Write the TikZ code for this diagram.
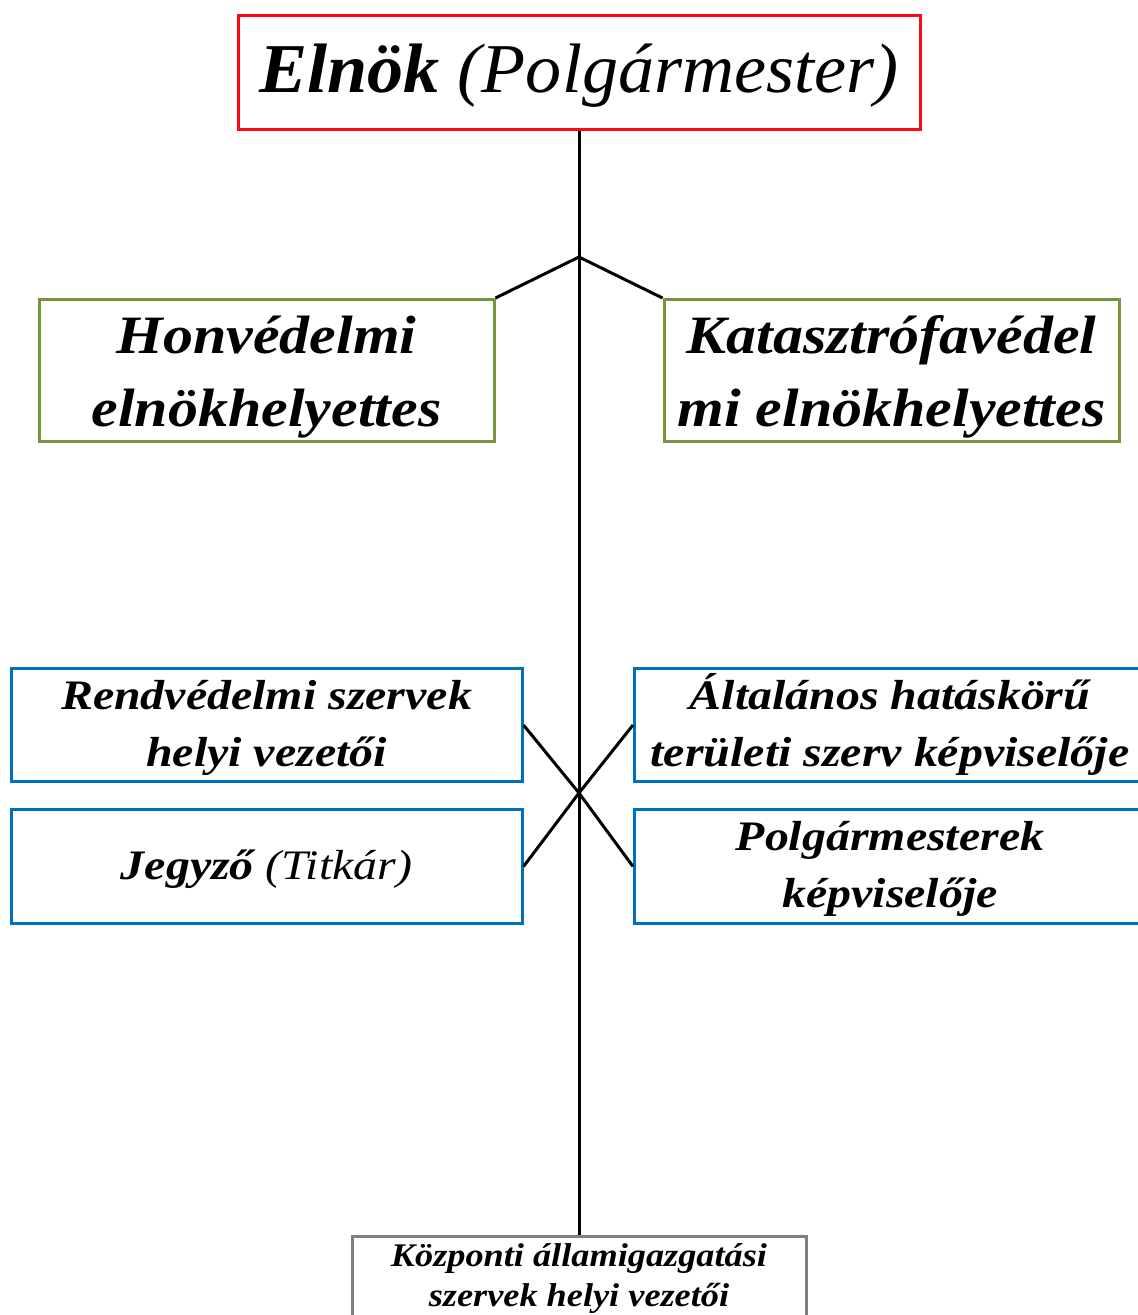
\documentclass[tikz,border=0pt]{standalone}
\usepackage{fontspec}
\setmainfont{Liberation Serif}
% the box labels are set slightly widened
\newfontfamily\chairfont[FakeStretch=1.03]{Liberation Serif}
\newfontfamily\deputyfont[FakeStretch=1.11]{Liberation Serif}
\newfontfamily\memberfont[FakeStretch=1.14]{Liberation Serif}
\newfontfamily\localfont[FakeStretch=1.10]{Liberation Serif}
\definecolor{chairred}{RGB}{250,10,20}
\definecolor{deputygreen}{RGB}{119,147,60}
\definecolor{memberblue}{RGB}{0,112,192}
\definecolor{localgray}{RGB}{128,128,128}
\tikzset{
  box/.style={draw, line width=3pt, rectangle, inner sep=0pt, align=center, fill=white, anchor=north},
  chairbox/.style={box, draw=chairred, minimum width=682pt, text height=77pt, text depth=37pt,
    font=\chairfont\fontsize{70}{80}\selectfont\bfseries\itshape},
  deputybox/.style={box, draw=deputygreen, minimum width=455pt, text height=127pt, text depth=15pt,
    font=\deputyfont\fontsize{54}{73}\selectfont\bfseries\itshape},
  memberbox/.style={box, draw=memberblue, minimum width=511pt,
    font=\memberfont\fontsize{42}{57}\selectfont\bfseries\itshape},
  localbox/.style={box, draw=localgray, minimum width=454pt, text height=70pt, text depth=30pt,
    font=\localfont\fontsize{33}{40}\selectfont\bfseries\itshape},
  link/.style={line width=3pt, black}
}
\begin{document}
\begin{tikzpicture}[x=1pt, y=-1pt]
\useasboundingbox (0,0) rectangle (1138,1315);

% junction points on the main spine
\coordinate (fork) at (579,257);
\coordinate (cross) at (579,793);

% local heads at the foot of the spine
\node[localbox] (local) at (579,1235)
  {Központi államigazgatási\\szervek helyi vezetői};
\draw[link] (579,128) -- (fork) -- (cross) -- (local.north);

% chair
\node[chairbox] (chair) at (579,14)
  {Elnök \mdseries(Polgármester)};

% deputies
\node[deputybox] (defence) at (266.5,298) {Honvédelmi\\elnökhelyettes};
\node[deputybox] (disaster) at (891.5,298) {Katasztrófavédel\\mi elnökhelyettes};

% members
\node[memberbox, text height=98pt, text depth=15pt] (police) at (266.5,667)
  {Rendvédelmi szervek\\helyi vezetői};
\node[memberbox, text height=70pt, text depth=44pt] (notary) at (266.5,808)
  {Jegyző \mdseries(Titkár)};
\node[memberbox, text height=98pt, text depth=15pt] (territorial) at (890,667)
  {Általános hatáskörű\\területi szerv képviselője};
\node[memberbox, text height=98pt, text depth=16pt] (mayors) at (890,808)
  {Polgármesterek\\képviselője};

% connectors
\draw[link] (chair.south) -- (fork);
\draw[link] (fork) -- (defence.north east);
\draw[link] (fork) -- (disaster.north west);
\draw[link] (police.east) -- (cross) -- (mayors.west);
\draw[link] (notary.east) -- (cross) -- (territorial.west);
\end{tikzpicture}
\end{document}
